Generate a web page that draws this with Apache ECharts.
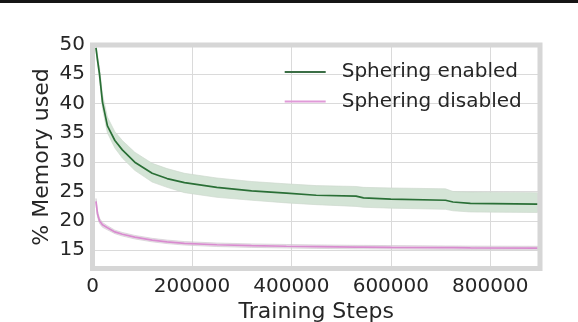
<!DOCTYPE html>
<html>
<head>
<meta charset="utf-8">
<script src="https://cdn.jsdelivr.net/npm/echarts@6/dist/echarts.min.js"></script>
<style>
html,body{margin:0;padding:0;background:#fff;}
#chart{width:578px;height:322px;}
</style>
</head>
<body>
<div id="chart"></div>
<script>
const steps = [7000, 10000, 14000, 20000, 30000, 45000, 60000, 85000, 120000, 150000, 185000, 250000, 320000, 390000, 450000, 530000, 545000, 600000, 710000, 725000, 760000, 895000];
const enabledMean = [49.5, 47.5, 45.1, 40.3, 36.2, 33.7, 32.1, 30.0, 28.1, 27.2, 26.5, 25.7, 25.1, 24.7, 24.35, 24.2, 23.9, 23.7, 23.5, 23.2, 22.95, 22.85];
const enabledLow  = [49.2, 46.8, 44.2, 39.2, 35.0, 32.4, 30.7, 28.6, 26.6, 25.7, 24.8, 24.0, 23.5, 23.05, 22.75, 22.45, 22.3, 22.15, 21.95, 21.7, 21.5, 21.4];
const enabledHigh = [50.0, 48.3, 46.2, 41.6, 37.7, 35.2, 33.7, 31.7, 29.8, 28.9, 28.1, 27.3, 26.7, 26.3, 26.0, 25.85, 25.7, 25.6, 25.45, 25.0, 24.9, 24.8];
const disabledMean = [23.3, 21.2, 20.0, 19.3, 18.8, 18.1, 17.7, 17.2, 16.7, 16.4, 16.15, 15.9, 15.75, 15.65, 15.58, 15.5, 15.5, 15.46, 15.4, 15.4, 15.37, 15.34];
const disabledLow  = [22.8, 20.7, 19.55, 18.9, 18.45, 17.8, 17.4, 16.9, 16.4, 16.1, 15.85, 15.6, 15.45, 15.35, 15.28, 15.2, 15.2, 15.16, 15.1, 15.1, 15.07, 15.04];
const disabledHigh = [23.8, 21.7, 20.45, 19.7, 19.15, 18.4, 18.0, 17.5, 17.0, 16.7, 16.45, 16.2, 16.05, 15.95, 15.88, 15.8, 15.8, 15.76, 15.7, 15.7, 15.67, 15.64];
const xTicks = [0, 200000, 400000, 600000, 800000];
const yTicks = [15, 20, 25, 30, 35, 40, 45, 50];
const xRange = [0, 900000];
const yRange = [11.85, 50];
const seriesNames = ['Sphering enabled', 'Sphering disabled'];
const xTitle = 'Training Steps';
const yTitle = '% Memory used';

const FONT = 'DejaVu Sans';
const TXT = '#262626';
const GREEN = '#2a6f36';
const PINK = '#d88ccf';

// plot frame (pixels)
const PL = 92.5, PT = 45, PR = 540, PB = 268.5, W = 578, H = 322;
// helper grid for the y ticks: extends down to the value 10 so ticks are multiples of 5
const yStep = 5, yTickMin = 10;
const pxPerUnit = (PB - PT) / (yRange[1] - yRange[0]);
const helperBottom = PT + (yRange[1] - yTickMin) * pxPerUnit;

function pairs(xs, ys) { return xs.map((x, i) => [x, ys[i]]); }

function band(low, high, fill, stroke) {
  return {
    type: 'custom',
    silent: true,
    z: 1,
    clip: true,
    xAxisIndex: 0, yAxisIndex: 0,
    data: [[steps[0], high[0]]],
    encode: { x: 0, y: 1 },
    renderItem: function (params, api) {
      const pts = [];
      for (let i = 0; i < steps.length; i++) pts.push(api.coord([steps[i], high[i]]));
      for (let i = steps.length - 1; i >= 0; i--) pts.push(api.coord([steps[i], low[i]]));
      return { type: 'polygon', shape: { points: pts }, style: { fill: fill, stroke: stroke, lineWidth: 0.8 } };
    }
  };
}

const gridCols = ['rgba(0,0,0,0)'].concat(yTicks.map(() => '#dadada'));

const chart = echarts.init(document.getElementById('chart'), null, { renderer: 'canvas' });
chart.setOption({
  animation: false,
  backgroundColor: '#ffffff',
  textStyle: { fontFamily: FONT },
  grid: [
    { left: PL, right: W - PR, top: PT, bottom: H - PB, show: false, containLabel: false, outerBoundsMode: 'none' },
    { left: PL, right: W - PR, top: PT, bottom: H - helperBottom, show: false, containLabel: false, outerBoundsMode: 'none' }
  ],
  xAxis: [
    {
      gridIndex: 0, type: 'value', min: xRange[0], max: xRange[1], interval: 200000,
      axisLine: { show: false }, axisTick: { show: false },
      splitLine: { show: true, lineStyle: { color: '#dadada', width: 1 } },
      axisLabel: {
        fontFamily: FONT, fontSize: 20, color: TXT, margin: 18, verticalAlign: 'middle', lineHeight: 20,
        formatter: v => xTicks.includes(v) ? String(v) : ''
      },
      name: xTitle, nameLocation: 'middle', nameGap: 36.5,
      nameTextStyle: { fontFamily: FONT, fontSize: 22, color: TXT, verticalAlign: 'middle', lineHeight: 22 }
    },
    { gridIndex: 1, type: 'value', min: xRange[0], max: xRange[1], show: false }
  ],
  yAxis: [
    { gridIndex: 0, type: 'value', min: yRange[0], max: yRange[1], show: false, splitLine: { show: false } },
    {
      gridIndex: 1, type: 'value', min: yTickMin, max: yRange[1], interval: yStep,
      axisLine: { show: false }, axisTick: { show: false },
      splitLine: { show: true, lineStyle: { color: gridCols, width: 1 } },
      axisLabel: {
        fontFamily: FONT, fontSize: 20, color: TXT, margin: 7.5,
        formatter: v => yTicks.includes(v) ? String(v) : ''
      }
    }
  ],
  legend: {
    orient: 'vertical', left: 284.7, top: 62, padding: 0,
    icon: 'rect', itemWidth: 41, itemHeight: 2, itemGap: 9.5,
    data: [
      { name: seriesNames[0], itemStyle: { color: '#3b6e45' } },
      { name: seriesNames[1], itemStyle: { color: '#e09ad8' } }
    ],
    textStyle: { fontFamily: FONT, fontSize: 20, color: TXT, lineHeight: 20, padding: [0, 0, 0, 11] }
  },
  graphic: [
    { type: 'rect', z: 100, silent: true, shape: { x: 0, y: 0, width: W, height: 3 }, style: { fill: '#151515' } },
    { type: 'rect', z: 100, silent: true, shape: { x: PL, y: PT, width: PR - PL, height: PB - PT }, style: { fill: 'none', stroke: '#d6d6d6', lineWidth: 5 } },
    { type: 'text', z: 100, silent: true, x: 42.5, y: 157, rotation: Math.PI / 2,
      style: { text: yTitle, fontFamily: FONT, fontSize: 22, fill: TXT, align: 'center', verticalAlign: 'middle' } }
  ],
  series: [
    band(enabledLow, enabledHigh, '#d4e4d6', 'rgba(205,215,205,0.8)'),
    band(disabledLow, disabledHigh, 'rgba(225,200,222,0.6)', 'rgba(200,195,200,0.7)'),
    { name: seriesNames[0], type: 'line', xAxisIndex: 0, yAxisIndex: 0, data: pairs(steps, enabledMean), showSymbol: false, z: 3,
      lineStyle: { color: GREEN, width: 1.7 }, itemStyle: { color: GREEN } },
    { name: seriesNames[1], type: 'line', xAxisIndex: 0, yAxisIndex: 0, data: pairs(steps, disabledMean), showSymbol: false, z: 3,
      lineStyle: { color: PINK, width: 1.7 }, itemStyle: { color: PINK } }
  ]
});
</script>
</body>
</html>
